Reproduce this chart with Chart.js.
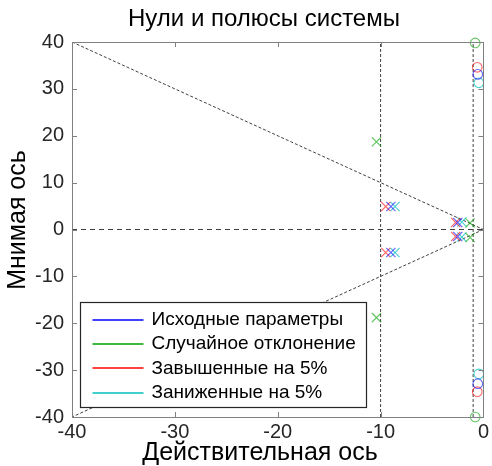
<!DOCTYPE html>
<html><head><meta charset="utf-8">
<script src="https://cdn.jsdelivr.net/npm/chart.js@4/dist/chart.umd.min.js"></script>
<style>html,body{margin:0;padding:0;background:#fff}</style>
</head><body>
<canvas id="c" width="492" height="466"></canvas>
<script>
// ---- data ----
const chartTitle = 'Нули и полюсы системы';
const xAxisTitle = 'Действительная ось';
const yAxisTitle = 'Мнимая ось';
const seriesNames = ['Исходные параметры', 'Случайное отклонение', 'Завышенные на 5%', 'Заниженные на 5%'];
const seriesColors = ['#0000ff', '#00a000', '#ff0000', '#00bfbf'];
const markerColors = ['rgba(0,0,255,0.6)', 'rgba(0,160,0,0.6)', 'rgba(255,0,0,0.6)', 'rgba(0,191,191,0.7)'];
// poles (x markers)
const polesOriginal = [{x:-9.0,y:4.9},{x:-9.0,y:-4.9},{x:-2.5,y:1.5},{x:-2.5,y:-1.5}];
const polesRandom   = [{x:-10.4,y:18.7},{x:-10.4,y:-18.8},{x:-1.3,y:1.4},{x:-1.3,y:-1.7}];
const polesHigher   = [{x:-9.5,y:4.9},{x:-9.5,y:-4.9},{x:-2.7,y:1.5},{x:-2.7,y:-1.5}];
const polesLower    = [{x:-8.6,y:4.9},{x:-8.6,y:-4.9},{x:-2.1,y:1.6},{x:-2.1,y:-1.6}];
// zeros (o markers)
const zerosOriginal = [{x:-0.55,y:33.1},{x:-0.55,y:-32.9}];
const zerosRandom   = [{x:-0.8,y:39.8},{x:-0.8,y:-40}];
const zerosHigher   = [{x:-0.6,y:34.6},{x:-0.6,y:-34.6}];
const zerosLower    = [{x:-0.45,y:31.3},{x:-0.45,y:-30.8}];
// grid guide lines (damping / frequency)
const guideDiagUpper = [{x:-40,y:40},{x:0,y:0}];
const guideDiagLower = [{x:0,y:0},{x:-40,y:-40}];
const guideHorizontal = [{x:-40,y:0},{x:0,y:0}];
const guideVertical10 = [{x:-10,y:-40},{x:-10,y:40}];
const guideVertical1 = [{x:-1,y:-40},{x:-1,y:40}];
const xTicks = [-40, -30, -20, -10, 0];
const yTicks = [-40, -30, -20, -10, 0, 10, 20, 30, 40];

const FONT = '"Liberation Sans", Arial, sans-serif';
const polesAll = [polesOriginal, polesRandom, polesHigher, polesLower];
const zerosAll = [zerosOriginal, zerosRandom, zerosHigher, zerosLower];

const datasets = [];
polesAll.forEach((d, i) => datasets.push({
  label: seriesNames[i], data: d, pointStyle: 'crossRot', pointRadius: 6.5,
  pointBorderWidth: 1.2, borderColor: markerColors[i], backgroundColor: 'transparent', showLine: false, order: 1
}));
zerosAll.forEach((d, i) => datasets.push({
  label: seriesNames[i], data: d, pointStyle: 'circle', pointRadius: 4.8,
  pointBorderWidth: 1.1, borderColor: markerColors[i], backgroundColor: 'transparent', showLine: false, clip: false, order: 1
}));
[[guideDiagUpper,[3,2]],[guideDiagLower,[3,2]],[guideHorizontal,[5,4]],[guideVertical10,[3,2]],[guideVertical1,[3,2]]].forEach(([d, dash]) => datasets.push({
  label: 'guide', data: d, showLine: true, pointRadius: 0, borderColor: '#404040', borderWidth: 1,
  borderDash: dash, order: 10, fill: false
}));

const decor = {
  id: 'decor',
  afterDatasetsDraw(chart) {
    const ctx = chart.ctx, ca = chart.chartArea, xs = chart.scales.x, ys = chart.scales.y;
    ctx.save();
    ctx.strokeStyle = '#808080'; ctx.lineWidth = 1;
    ctx.strokeRect(Math.round(ca.left) + 0.5, Math.round(ca.top) + 0.5, Math.round(ca.right - ca.left), Math.round(ca.bottom - ca.top));
    ctx.beginPath();
    xTicks.forEach(v => {
      const p = Math.round(xs.getPixelForValue(v)) + 0.5;
      ctx.moveTo(p, ca.bottom); ctx.lineTo(p, ca.bottom - 5);
      ctx.moveTo(p, ca.top); ctx.lineTo(p, ca.top + 5);
    });
    yTicks.forEach(v => {
      const p = Math.round(ys.getPixelForValue(v)) + 0.5;
      ctx.moveTo(ca.left, p); ctx.lineTo(ca.left + 5, p);
      ctx.moveTo(ca.right, p); ctx.lineTo(ca.right - 5, p);
    });
    ctx.stroke();
    ctx.restore();
  },
  afterDraw(chart) {
    const ctx = chart.ctx, ca = chart.chartArea;
    ctx.save();
    // legend
    const bx = ca.left + 8.5, by = 302.5, bw = 286, bh = 105;
    ctx.fillStyle = '#fff'; ctx.fillRect(bx, by, bw, bh);
    ctx.strokeStyle = '#262626'; ctx.lineWidth = 1.2; ctx.strokeRect(bx, by, bw, bh);
    ctx.font = '19px ' + FONT; ctx.textBaseline = 'middle'; ctx.textAlign = 'left';
    seriesNames.forEach((n, i) => {
      const y = by + 17 + i * 24.4;
      ctx.strokeStyle = seriesColors[i]; ctx.lineWidth = 1.5;
      ctx.beginPath(); ctx.moveTo(bx + 12, Math.round(y)); ctx.lineTo(bx + 63, Math.round(y)); ctx.stroke();
      ctx.fillStyle = '#000'; ctx.fillText(n, bx + 71, y);
    });
    // title & axis titles
    ctx.fillStyle = '#000'; ctx.textAlign = 'center';
    ctx.font = '24px ' + FONT; ctx.fillText(chartTitle, 264, 19);
    ctx.font = '25px ' + FONT; ctx.fillText(xAxisTitle, 260, 453);
    ctx.translate(18, 220); ctx.rotate(-Math.PI / 2);
    ctx.fillText(yAxisTitle, 0, 0);
    ctx.restore();
  }
};

new Chart(document.getElementById('c'), {
  type: 'scatter',
  data: { datasets },
  options: {
    responsive: false, animation: false, devicePixelRatio: 1,
    layout: { padding: { top: 42, right: 6, left: 0, bottom: 0 } },
    plugins: { legend: { display: false }, tooltip: { enabled: false }, title: { display: false } },
    scales: {
      x: {
        type: 'linear', min: -40, max: 0,
        afterFit: s => { s.height = 49; },
        afterBuildTicks: s => { s.ticks = xTicks.map(v => ({ value: v })); },
        grid: { display: false, drawTicks: false }, border: { display: false },
        ticks: { font: { size: 20, family: FONT }, color: '#262626', padding: 3, maxRotation: 0, autoSkip: false }
      },
      y: {
        type: 'linear', min: -40, max: 40,
        afterFit: s => { s.width = 72; },
        afterBuildTicks: s => { s.ticks = yTicks.map(v => ({ value: v })); },
        grid: { display: false, drawTicks: false }, border: { display: false },
        ticks: { font: { size: 20, family: FONT }, color: '#262626', padding: 8, autoSkip: false }
      }
    }
  },
  plugins: [decor]
});
</script>
</body></html>
